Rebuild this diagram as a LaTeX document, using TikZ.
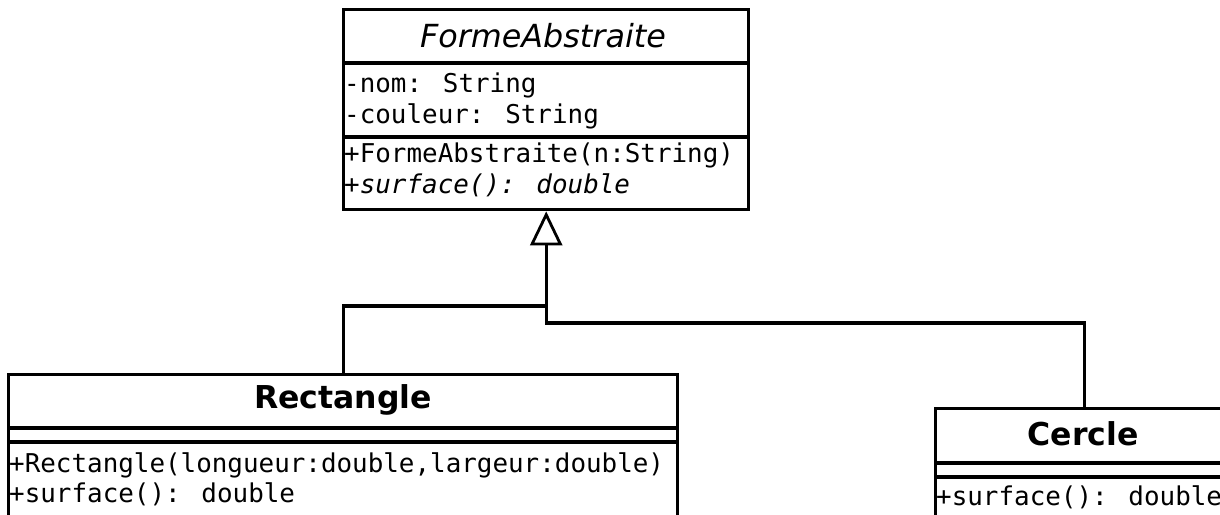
\documentclass[tikz,border=0pt]{standalone}
\usepackage{fontspec}
\setmainfont{DejaVu Sans}
\newfontfamily\umlmono{DejaVu Sans Mono}
\usetikzlibrary{arrows.meta}
\begin{document}
\begin{tikzpicture}[x=1pt,y=-1pt,
  classbox/.style={draw=black, line width=3.4pt, fill=white, inner sep=0pt, anchor=north west, line join=miter},
  divider/.style={line width=3.4pt},
  conn/.style={line width=3.4pt, line join=miter},
  inh/.style={-{Triangle[open, length=34pt, width=32pt, line width=2.8pt]}},
  member/.style={font=\umlmono\fontsize{25.9}{30}\selectfont, anchor=base west, inner sep=0pt, text=black},
  title/.style={font=\fontsize{31.5}{36}\selectfont, inner sep=0pt, text=black}
]
\useasboundingbox (0,0) rectangle (1220,514);
\fill[white] (0,0) rectangle (1220,514);
\clip (0,0) rectangle (1220,514);

% FormeAbstraite
\node[classbox, minimum width=405pt, minimum height=200pt] (fa) at (342,8) {};
\draw[divider] (342,63) -- (747,63);
\draw[divider] (342,137) -- (747,137);
\node[title, font=\itshape\fontsize{31.8}{36}\selectfont] (fa-name) at (543,36) {FormeAbstraite};
\node[member] (fa-a1) at (344,92) {-nom: String};
\node[member] (fa-a2) at (344,123) {-couleur: String};
\node[member] (fa-m1) at (344,162) {+FormeAbstraite(n:String)};
\node[member, font=\umlmono\itshape\fontsize{25.9}{30}\selectfont] (fa-m2) at (344,193) {+surface(): double};

% Rectangle
\node[classbox, minimum width=669pt, minimum height=200pt] (rect) at (7,373) {};
\draw[divider] (7,428) -- (676,428);
\draw[divider] (7,442) -- (676,442);
\node[title, font=\bfseries\fontsize{31.5}{36}\selectfont] (rect-name) at (343,400) {Rectangle};
\node[member] (rect-m1) at (9,472) {+Rectangle(longueur:double,largeur:double)};
\node[member] (rect-m2) at (9,502) {+surface(): double};

% Cercle
\node[classbox, minimum width=298pt, minimum height=200pt] (cer) at (934,407) {};
\draw[divider] (934,463) -- (1232,463);
\draw[divider] (934,477) -- (1232,477);
\node[title, font=\bfseries\fontsize{31.5}{36}\selectfont] (cer-name) at (1083,434) {Cercle};
\node[member] (cer-m1) at (936,505) {+surface(): double};

% Inheritance connectors
\coordinate (jr) at (fa.south |- 0,306);
\coordinate (jc) at (fa.south |- 0,323);
\draw[conn] (rect.north) |- (jr);
\draw[conn, inh] (cer.north) |- (jc) -- (fa.south);
\end{tikzpicture}
\end{document}
